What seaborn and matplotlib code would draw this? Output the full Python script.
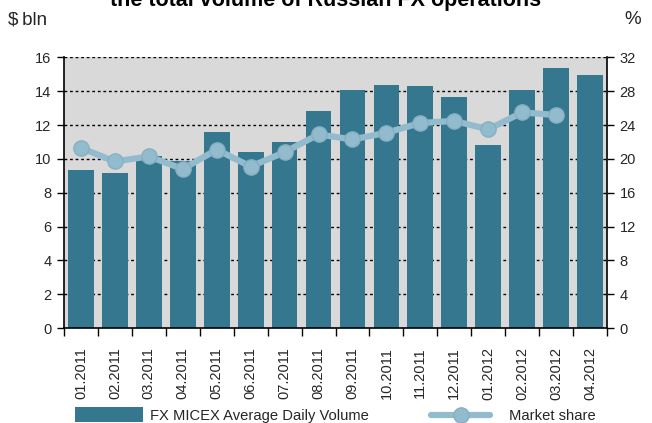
import matplotlib
matplotlib.use("Agg")
import matplotlib.pyplot as plt
import seaborn as sns
import numpy as np
import pandas as pd
from matplotlib.lines import Line2D
from matplotlib.patches import Patch

months = ["01.2011", "02.2011", "03.2011", "04.2011", "05.2011", "06.2011",
          "07.2011", "08.2011", "09.2011", "10.2011", "11.2011", "12.2011",
          "01.2012", "02.2012", "03.2012", "04.2012"]
volume = [9.35, 9.15, 10.2, 9.85, 11.6, 10.4, 11.0, 12.85, 14.1, 14.4,
          14.3, 13.65, 10.8, 14.1, 15.4, 14.95]
share = [21.3, 19.7, 20.3, 18.8, 21.1, 19.1, 20.8, 22.9, 22.3, 23.1,
         24.25, 24.5, 23.5, 25.5, 25.2]
left_ticks = [0, 2, 4, 6, 8, 10, 12, 14, 16]
right_ticks = [0, 4, 8, 12, 16, 20, 24, 28, 32]

title = "the total volume of Russian FX operations"
bar_label = "FX MICEX Average Daily Volume"
line_label = "Market share"

sns.set_theme(style="white")
plt.rcParams['font.family'] = ['Liberation Sans', 'DejaVu Sans']

BAR = "#35778f"
LINE = "#92bccd"
BG = "#d9d9d9"

fig = plt.figure(figsize=(6.52, 4.23), dpi=100)
ax = fig.add_axes([64/652, 1 - 328/423, (607-64)/652, (328-57.5)/423])
ax.set_facecolor(BG)

df = pd.DataFrame({"month": months, "volume": volume})
sns.barplot(data=df, x="month", y="volume", color=BAR, saturation=1,
            width=0.76, ax=ax, zorder=2, linewidth=0, edgecolor="none")
ax.set_xlim(-0.5, len(months) - 0.5)
ax.set_ylim(0, 16)
ax.set_yticks(left_ticks)
ax.set_xlabel("")
ax.set_ylabel("")
for y in left_ticks[1:]:
    ax.axhline(y, color="black", lw=1.0, ls=(0, (2, 2)), zorder=1)

ax.set_xticks(np.arange(len(months)))
ax.set_xticklabels(months, rotation=90, fontsize=10.5)
ax.tick_params(axis="x", which="major", length=0, pad=14)
ax.set_xticks(np.arange(len(months) + 1) - 0.5, minor=True)
ax.tick_params(axis="x", which="minor", length=6, width=1, color="black",
               direction="out", bottom=True)
ax.tick_params(axis="y", labelsize=10.5, length=5, width=1, color="black",
               direction="out", left=True, pad=4)

for s in ["left", "bottom", "right"]:
    ax.spines[s].set_visible(True)
    ax.spines[s].set_color("black")
    ax.spines[s].set_linewidth(1.2)
ax.spines["top"].set_visible(False)

ax2 = ax.twinx()
ax2.set_ylim(0, 32)
ax2.set_yticks(right_ticks)
ax2.plot(np.arange(len(share)), share, color=LINE, lw=4.5, marker="o",
         markersize=11, markerfacecolor=LINE, markeredgecolor="#86b0c2",
         markeredgewidth=1.0, zorder=3)
ax2.tick_params(axis="y", labelsize=10.5, length=5, width=1, color="black",
                direction="out", right=True, pad=4)
for s in ["left", "bottom", "right", "top"]:
    ax2.spines[s].set_visible(False)
ax2.grid(False)
ax.grid(False)

fig.text(0.5, 1 - 6/423, title, ha="center", va="baseline",
         fontsize=15.5, fontweight="bold", color="black")
fig.text(8/652, 1 - 20/423, "$\u2009bln", ha="left", va="center", fontsize=13.5)
fig.text(624/652, 1 - 20/423, "%", ha="left", va="center", fontsize=13.5)

handles = [Patch(facecolor=BAR, edgecolor="none"),
           Line2D([0], [0], color=LINE, lw=4.5, marker="o", markersize=11,
                  markeredgecolor="#86b0c2")]
fig.legend(handles[:1], [bar_label], loc="lower left",
           bbox_to_anchor=(62/652, -13/423), frameon=False, fontsize=10.6,
           handlelength=4.6, handleheight=1.2, handletextpad=0.5)
fig.legend(handles[1:], [line_label], loc="lower left",
           bbox_to_anchor=(418/652, -13/423), frameon=False, fontsize=10.6,
           handlelength=4.0, handletextpad=1.3)

fig.savefig("out.png", dpi=100)
